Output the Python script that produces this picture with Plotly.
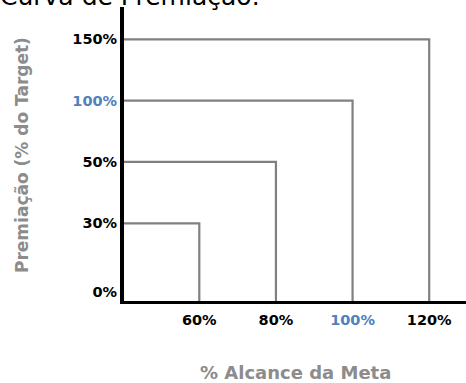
import plotly.graph_objects as go

# ---- data ----
alcance = [60, 80, 100, 120]                 # % Alcance da Meta (x)
premiacao_labels = ["30%", "50%", "100%", "150%"]  # Premiação levels (y, evenly spaced categories)
x_tick_vals = [60, 80, 100, 120]
x_tick_labels = ["60%", "80%", "100%", "120%"]
y_tick_labels = ["0%", "30%", "50%", "100%", "150%"]
highlight = "100%"

BLUE = "#4F81BD"
GRAY = "#808080"
FONT = "DejaVu Sans"

W, H = 466, 383
ML, MR, MT, MB = 124, 0, 7, 82
PW, PH = W - ML - MR, H - MT - MB

x_range = [40.35, 129.6]
y_range = [-0.267, 4.527]
y_positions = [i + 1 for i in range(len(premiacao_labels))]
y_tick_pos = [-0.12] + y_positions


def fmt(lbl):
    if lbl == highlight:
        return f"<b><span style='color:{BLUE}'>{lbl}</span></b>"
    return f"<b>{lbl}</b>"


fig = go.Figure()
for xv, yv in zip(alcance, y_positions):
    fig.add_trace(go.Scatter(
        x=[x_range[0], xv, xv], y=[yv, yv, y_range[0]],
        mode="lines", line=dict(color=GRAY, width=2.2),
        showlegend=False, hoverinfo="skip", cliponaxis=False))

fig.update_layout(
    width=W, height=H,
    margin=dict(l=ML, r=MR, t=MT, b=MB),
    paper_bgcolor="white", plot_bgcolor="white",
    font=dict(family=FONT, color="black"),
    xaxis=dict(range=x_range, tickvals=x_tick_vals,
               ticktext=[fmt(t) for t in x_tick_labels],
               showgrid=False, zeroline=False, showline=True,
               linecolor="black", linewidth=3, ticks="",
               ticklabelstandoff=4,
               tickfont=dict(size=14.5, family=FONT, color="black")),
    yaxis=dict(range=y_range, tickvals=y_tick_pos,
               ticktext=[fmt(t) for t in y_tick_labels],
               showgrid=False, zeroline=False, showline=True,
               linecolor="black", linewidth=4, ticks="",
               tickfont=dict(size=14.5, family=FONT, color="black")),
    annotations=[
        dict(text="<b>% Alcance da Meta</b>", xref="paper", yref="paper",
             x=(295 - ML) / PW, y=(MT + PH - 372) / PH,
             xanchor="center", yanchor="middle", showarrow=False,
             font=dict(size=18, family=FONT, color="#8C8C8C")),
        dict(text="<b>Premiação (% do Target)</b>", xref="paper", yref="paper",
             x=(22 - ML) / PW, y=(MT + PH - 155) / PH, textangle=-90,
             xanchor="center", yanchor="middle", showarrow=False,
             font=dict(size=17, family=FONT, color="#8C8C8C")),
        dict(text="Curva de Premiação:", xref="paper", yref="paper",
             x=(-2 - ML) / PW, y=(MT + PH + 3.6) / PH,
             xanchor="left", yanchor="middle", showarrow=False,
             font=dict(size=25, family=FONT, color="black")),
    ],
)

fig.write_html("out.html")
